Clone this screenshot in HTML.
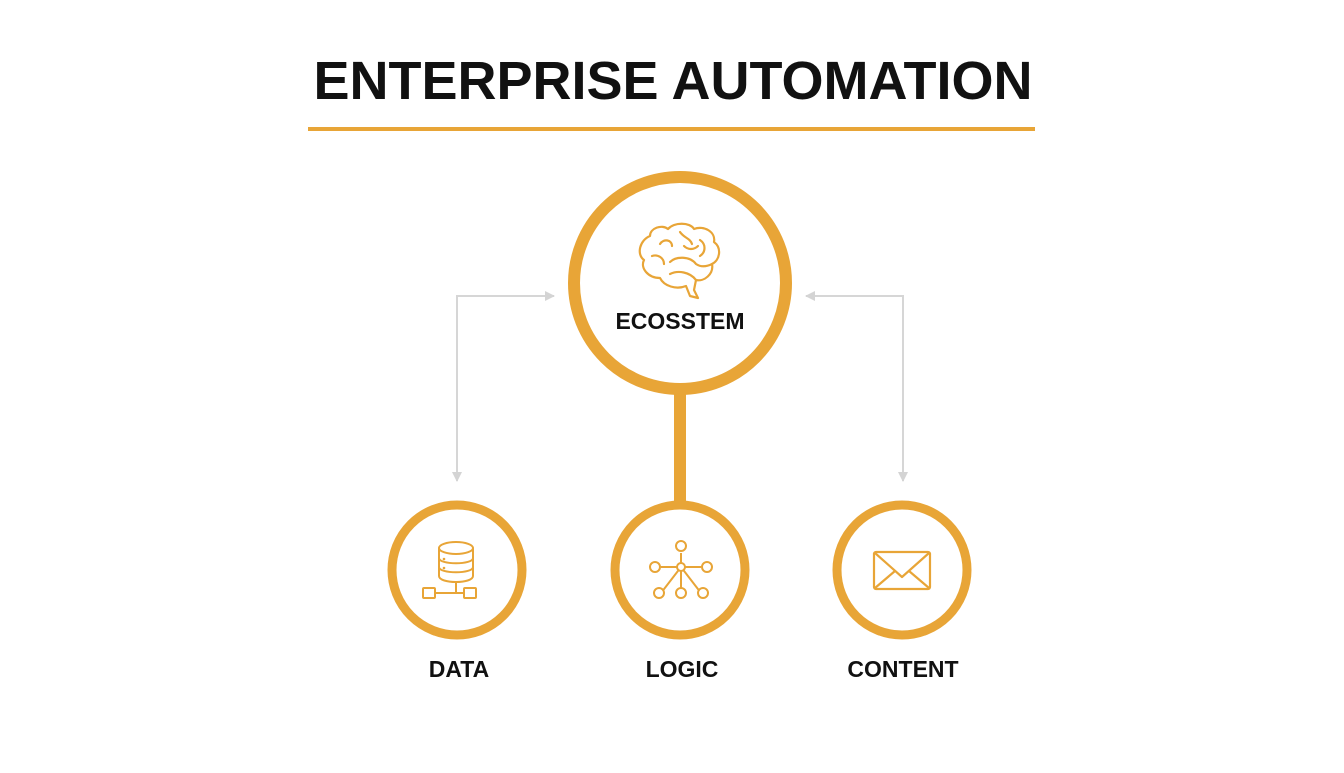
<!DOCTYPE html>
<html><head><style>
body{margin:0;width:1344px;height:768px;background:#fff;overflow:hidden;font-family:"Liberation Sans",sans-serif}
</style></head><body>
<svg width="1344" height="768" viewBox="0 0 1344 768" xmlns="http://www.w3.org/2000/svg">
<text x="673" y="99" text-anchor="middle" font-family="Liberation Sans" font-weight="bold" font-size="54" fill="#111">ENTERPRISE AUTOMATION</text>
<rect x="308" y="127" width="727" height="4" fill="#e8a537"/>
<defs><marker id="a" markerWidth="10" markerHeight="10" refX="9" refY="5" orient="auto-start-reverse" markerUnits="userSpaceOnUse"><path d="M0,0 L10,5 L0,10 z" fill="#d4d4d4"/></marker></defs>
<g stroke="#d6d6d6" stroke-width="2" fill="none">
<path d="M457,481 L457,296 L554,296" marker-start="url(#a)" marker-end="url(#a)"/>
<path d="M903,481 L903,296 L806,296" marker-start="url(#a)" marker-end="url(#a)"/>
</g>
<rect x="674" y="390" width="12" height="118" fill="#e8a537"/>
<g fill="#fff" stroke="#e8a537">
<circle cx="680" cy="283" r="106" stroke-width="12"/>
<circle cx="457" cy="570" r="65" stroke-width="9"/>
<circle cx="680" cy="570" r="65" stroke-width="9"/>
<circle cx="902" cy="570" r="65" stroke-width="9"/>
</g>
<g fill="none" stroke="#e8a537" stroke-width="2.2" stroke-linecap="round" stroke-linejoin="round">
<path d="M650,236 C650,228 662,224 668,229 C674,222 690,222 694,229 C704,225 716,232 714,242 C722,248 720,260 712,264 C714,274 704,282 696,280 L694,290 L698,298 L690,296 L686,286 C676,290 664,286 660,278 C648,278 640,268 644,260 C636,254 640,240 650,236 Z"/>
<path d="M660,244 C664,238 672,240 672,246"/>
<path d="M680,232 C684,238 690,238 692,244"/>
<path d="M700,240 C706,244 706,252 700,256"/>
<path d="M652,256 C658,254 664,258 664,264"/>
<path d="M670,262 C676,256 690,256 696,264 C702,268 708,266 712,264"/>
<path d="M670,274 C678,270 690,272 696,280"/>
<path d="M684,246 C688,250 694,250 698,246"/>
</g>
<text x="680" y="329" text-anchor="middle" font-family="Liberation Sans" font-weight="bold" font-size="23" fill="#111">ECOSSTEM</text>
<g fill="none" stroke="#e8a537" stroke-width="2" stroke-linecap="round">
<ellipse cx="456" cy="548" rx="17" ry="6"/>
<path d="M439,548 V576 C439,584 473,584 473,576 V548"/>
<path d="M439,558 C439,565 473,565 473,558"/>
<path d="M439,567 C439,574 473,574 473,567"/>
<path d="M456,582 V593 M435,593 H464"/>
<rect x="423" y="588" width="12" height="10" rx="1"/>
<rect x="464" y="588" width="12" height="10" rx="1"/>
</g>
<g fill="#e8a537"><circle cx="444" cy="559" r="1.3"/><circle cx="444" cy="568" r="1.3"/></g>
<g fill="#fff" stroke="#e8a537" stroke-width="2">
<path d="M681,567 V553 M681,567 H661 M681,567 H701 M681,567 L661,593 M681,567 L681,593 M681,567 L701,593"/>
<circle cx="681" cy="546" r="5"/>
<circle cx="655" cy="567" r="5"/><circle cx="707" cy="567" r="5"/>
<circle cx="681" cy="567" r="4"/>
<circle cx="659" cy="593" r="5"/><circle cx="681" cy="593" r="5"/><circle cx="703" cy="593" r="5"/>
</g>
<g fill="none" stroke="#e8a537" stroke-width="2.2" stroke-linejoin="round">
<rect x="874" y="552" width="56" height="37" rx="2"/>
<path d="M875,553 L902,577 L929,553 M875,588 L895,571 M929,588 L909,571"/>
</g>
<g font-family="Liberation Sans" font-weight="bold" font-size="23" fill="#111" text-anchor="middle">
<text x="459" y="677">DATA</text>
<text x="682" y="677">LOGIC</text>
<text x="903" y="677">CONTENT</text>
</g>
</svg>
</body></html>
